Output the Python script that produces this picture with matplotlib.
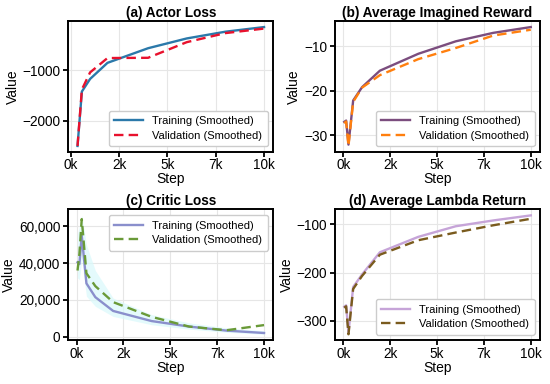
import matplotlib
matplotlib.use("Agg")
import matplotlib.pyplot as plt
from matplotlib.ticker import FuncFormatter, MultipleLocator
import numpy as np

# data
steps = [50, 150, 275, 525, 1000, 1950, 4000, 6000, 8000, 10000]
steps_actor = [350, 575, 1000, 1900, 4000, 6000, 8000, 10000]

actor_train = [-2500, -1420, -1170, -850, -560, -366, -232, -140]
actor_val = [-2500, -1380, -1040, -755, -750, -440, -260, -170]

reward_train = [-27.0, -26.7, -32.1, -22.2, -19.2, -15.5, -11.7, -8.9, -7.0, -5.7]
reward_val = [-27.3, -26.9, -32.4, -22.5, -19.3, -16.5, -12.9, -10.4, -7.6, -6.3]

critic_train = [40500, 39500, 55000, 29000, 21500, 14000, 8500, 5500, 3300, 2000]
critic_val = [36000, 45000, 64000, 34500, 27500, 18800, 10800, 5500, 3500, 6300]
critic_band_hi = [56000, 60000, 66000, 50000, 36000, 21000, 12000, 7500, 4800, 3200]
critic_band_lo = [32000, 31000, 42000, 22000, 16500, 11000, 6500, 4100, 2400, 1300]

lambda_train = [-271, -268, -325, -230, -204, -158, -126, -104, -92, -81.5]
lambda_val = [-273, -270, -328, -234, -207, -163, -133, -117, -102, -88.5]

plt.rcParams.update({
    "font.family": ["Liberation Sans", "DejaVu Sans"],
    "font.size": 10,
    "axes.edgecolor": "black",
    "axes.linewidth": 1.4,
    "xtick.major.size": 3.6,
    "ytick.major.size": 3.6,
    "xtick.major.width": 1.3,
    "ytick.major.width": 1.3,
    "xtick.labelsize": 9.8,
    "ytick.labelsize": 9.8,
    "axes.labelsize": 10,
    "axes.titlesize": 9.8,
    "axes.titleweight": "bold",
    "legend.fontsize": 8,
})

fig, axes = plt.subplots(2, 2, figsize=(5.5, 3.84), dpi=100)
fig.subplots_adjust(left=0.124, right=0.982, top=0.945, bottom=0.114,
                    wspace=0.30, hspace=0.44)

k_fmt = FuncFormatter(lambda x, p: f"{int(x / 1000)}k")

panels = [
    (axes[0, 0], "(a) Actor Loss", steps_actor, actor_train, actor_val,
     "#2b79aa", "#e8112d", "lower right"),
    (axes[0, 1], "(b) Average Imagined Reward", steps, reward_train, reward_val,
     "#7b4d7e", "#ff7f0e", "lower right"),
    (axes[1, 0], "(c) Critic Loss", steps, critic_train, critic_val,
     "#8a8fcc", "#6a9a38", "upper right"),
    (axes[1, 1], "(d) Average Lambda Return", steps, lambda_train, lambda_val,
     "#c6a4d8", "#7a5b1e", "lower right"),
]

for ax, title, x, tr, va, c_tr, c_va, loc in panels:
    if title.startswith("(c)"):
        ax.fill_between(x, critic_band_lo, critic_band_hi, color="#d9f9fb",
                        alpha=0.7, lw=0)
    ax.plot(x, tr, color=c_tr, lw=1.7, label="Training (Smoothed)")
    ax.plot(x, va, color=c_va, lw=1.7, ls=(0, (4, 2.2)),
            label="Validation (Smoothed)")
    ax.set_title(title, pad=3)
    ax.set_xlabel("Step", labelpad=0)
    ax.set_ylabel("Value", labelpad=2)
    ax.xaxis.set_major_locator(MultipleLocator(2500))
    ax.xaxis.set_major_formatter(k_fmt)
    ax.grid(True, color="#e6e6e6", lw=0.8)
    ax.set_axisbelow(True)
    ax.tick_params(axis="x", pad=1)
    ax.tick_params(axis="y", pad=2)
    ax.legend(loc=loc, handlelength=2.6, borderpad=0.5, labelspacing=0.4,
              edgecolor="#cccccc", framealpha=1)

axes[1, 0].yaxis.set_major_locator(MultipleLocator(20000))
axes[1, 0].yaxis.set_major_formatter(FuncFormatter(lambda y, p: f"{int(y):,}"))

fig.savefig("out.png", dpi=100)
